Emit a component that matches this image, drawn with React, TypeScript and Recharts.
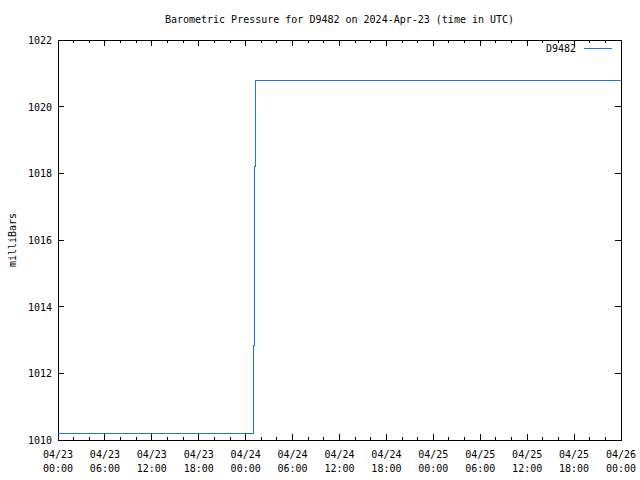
import { LineChart, Line, XAxis, YAxis, ReferenceArea } from "recharts";

// hours since 2024-04-23 00:00 UTC
const sampleHours = [0, 24.98, 25.16, 25.28, 72];
const pressureMb = [1010.2, 1012.85, 1018.2, 1020.8, 1020.8];

const xTickHours = [0, 2, 4, 6, 8, 10, 12, 14, 16, 18, 20, 22, 24, 26, 28, 30, 32, 34, 36, 38, 40, 42, 44, 46, 48, 50, 52, 54, 56, 58, 60, 62, 64, 66, 68, 70, 72];
const xTickDates = ["04/23", "04/23", "04/23", "04/23", "04/24", "04/24", "04/24", "04/24", "04/25", "04/25", "04/25", "04/25", "04/26"];
const xTickTimes = ["00:00", "06:00", "12:00", "18:00", "00:00", "06:00", "12:00", "18:00", "00:00", "06:00", "12:00", "18:00", "00:00"];
const yTicks = [1010, 1012, 1014, 1016, 1018, 1020, 1022];

const LINE_COLOR = "#1a75e8";
const FONT = "'DejaVu Sans Mono', monospace";

const LEFT = 58;
const RIGHT = 621;
const TOP = 40;
const BOTTOM = 440;

const data = sampleHours.map((h, i) => ({ h, p: pressureMb[i] }));

const XTick = (props: any) => {
  const { x, payload } = props;
  const v = payload.value as number;
  const major = v % 6 === 0;
  const len = major ? 6 : 3;
  const idx = v / 6;
  return (
    <g>
      <line x1={x} x2={x} y1={BOTTOM} y2={BOTTOM - len} stroke="#000" shapeRendering="crispEdges" />
      <line x1={x} x2={x} y1={TOP} y2={TOP + len} stroke="#000" shapeRendering="crispEdges" />
      {major && (
        <text x={x} y={458} textAnchor="middle" fontFamily={FONT} fontSize={10} fill="#000">
          <tspan x={x}>{xTickDates[idx]}</tspan>
          <tspan x={x} dy={14}>{xTickTimes[idx]}</tspan>
        </text>
      )}
    </g>
  );
};

const YTick = (props: any) => {
  const { y, payload } = props;
  return (
    <g>
      <line x1={LEFT} x2={LEFT + 6} y1={y} y2={y} stroke="#000" shapeRendering="crispEdges" />
      <line x1={RIGHT} x2={RIGHT - 6} y1={y} y2={y} stroke="#000" shapeRendering="crispEdges" />
      <text x={52} y={y + 4} textAnchor="end" fontFamily={FONT} fontSize={10} fill="#000">
        {payload.value}
      </text>
    </g>
  );
};

export default function App() {
  return (
    <div style={{ position: "absolute", left: 0, top: 0, width: 640, height: 480, background: "#fff" }}>
      <div
        style={{
          position: "absolute",
          left: LEFT,
          width: RIGHT - LEFT,
          top: 13,
          textAlign: "center",
          fontFamily: FONT,
          fontSize: 10,
          lineHeight: "14px",
        }}
      >
        Barometric Pressure for D9482 on 2024-Apr-23 (time in UTC)
      </div>
      <div
        style={{
          position: "absolute",
          left: 12,
          top: 240,
          transform: "translate(-50%, -50%) rotate(-90deg)",
          fontFamily: FONT,
          fontSize: 10,
          whiteSpace: "nowrap",
        }}
      >
        milliBars
      </div>
      <div
        style={{
          position: "absolute",
          right: 640 - 576,
          top: 42,
          fontFamily: FONT,
          fontSize: 10,
          lineHeight: "14px",
        }}
      >
        D9482
      </div>
      <div style={{ position: "absolute", left: 584, top: 48, width: 28, height: 1, background: LINE_COLOR }} />
      <LineChart
        width={640}
        height={480}
        data={data}
        margin={{ top: TOP, right: 640 - RIGHT, bottom: 0, left: 8 }}
      >
        <XAxis
          dataKey="h"
          type="number"
          domain={[0, 72]}
          ticks={xTickHours}
          interval={0}
          axisLine={false}
          tickLine={false}
          tick={<XTick />}
          height={40}
        />
        <YAxis
          type="number"
          domain={[1010, 1022]}
          ticks={yTicks}
          interval={0}
          axisLine={false}
          tickLine={false}
          tick={<YTick />}
          width={50}
        />
        <ReferenceArea
          x1={0}
          x2={72}
          y1={1010}
          y2={1022}
          fill="none"
          stroke="#000"
          strokeOpacity={1}
          shapeRendering="crispEdges"
        />
        <Line
          type="stepAfter"
          dataKey="p"
          stroke={LINE_COLOR}
          strokeWidth={1}
          dot={false}
          shapeRendering="crispEdges"
          isAnimationActive={false}
        />
      </LineChart>
    </div>
  );
}
